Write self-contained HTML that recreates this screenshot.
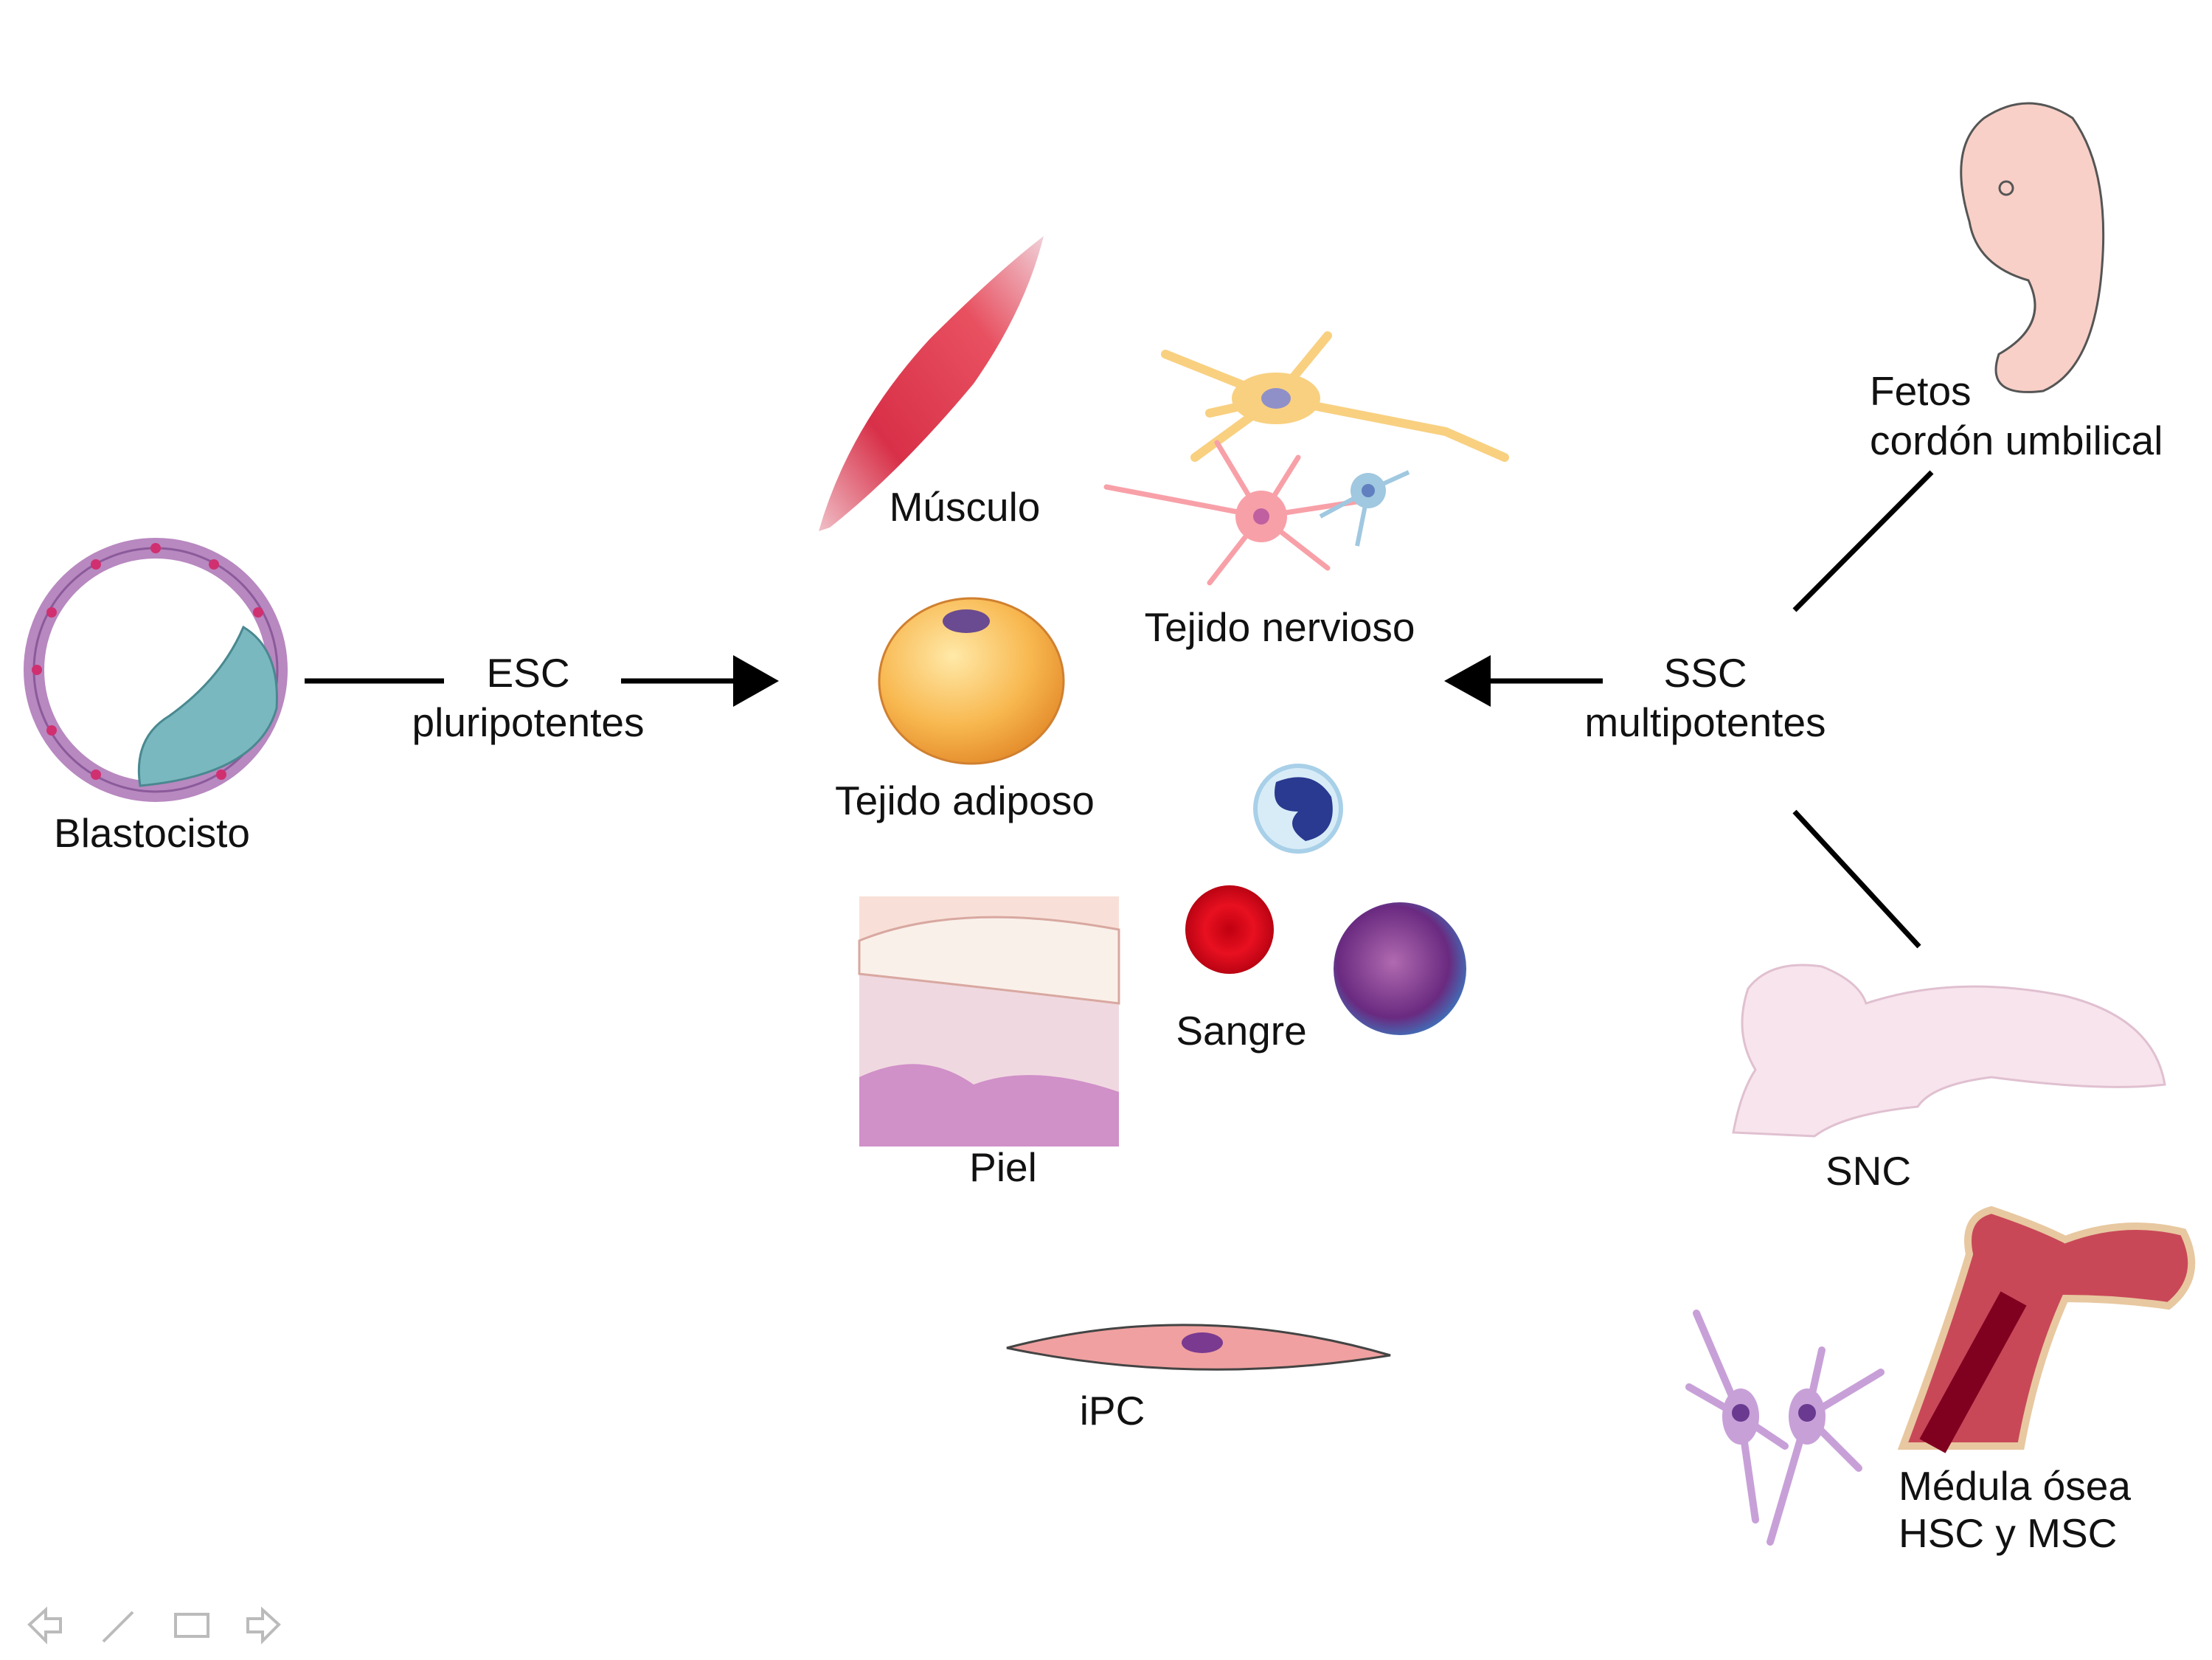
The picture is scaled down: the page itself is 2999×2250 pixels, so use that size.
<!DOCTYPE html>
<html><head><meta charset="utf-8"><style>
html,body{margin:0;padding:0;background:#fff}
svg{display:block}
text{font-family:"Liberation Sans",Arial,sans-serif;font-size:55px;fill:#111;transform:translate(-9px,-4px)}
</style></head><body>
<svg width="2999" height="2250" viewBox="0 0 2999 2250" xmlns="http://www.w3.org/2000/svg">
<defs>
<radialGradient id="fat" cx="40%" cy="35%" r="70%"><stop offset="0" stop-color="#ffe9a8"/><stop offset="0.6" stop-color="#f8b850"/><stop offset="1" stop-color="#e38a2a"/></radialGradient>
<radialGradient id="rbc" cx="50%" cy="50%" r="55%"><stop offset="0" stop-color="#c00010"/><stop offset="0.5" stop-color="#e81020"/><stop offset="1" stop-color="#b00010"/></radialGradient>
<radialGradient id="pur" cx="45%" cy="45%" r="60%"><stop offset="0" stop-color="#b06ab0"/><stop offset="0.7" stop-color="#6a2a80"/><stop offset="1" stop-color="#3a7ac0"/></radialGradient>
<linearGradient id="mus" x1="0" y1="1" x2="1" y2="0"><stop offset="0" stop-color="#f0c0c8"/><stop offset="0.3" stop-color="#d83048"/><stop offset="0.7" stop-color="#e85060"/><stop offset="1" stop-color="#f0d0d8"/></linearGradient>
</defs>

<!-- Blastocyst -->
<circle cx="211" cy="908" r="165" fill="none" stroke="#b888c0" stroke-width="28"/>
<circle cx="211" cy="908" r="165" fill="none" stroke="#8a5a9a" stroke-width="3"/>
<path d="M330 850 Q380 880 375 960 Q350 1050 190 1065 Q180 1000 230 970 Q300 920 330 850Z" fill="#7ab8c0" stroke="#4a8890" stroke-width="3"/>
<g fill="#d03070">
<circle cx="211" cy="743" r="7"/><circle cx="130" cy="765" r="7"/><circle cx="290" cy="765" r="7"/><circle cx="70" cy="830" r="7"/><circle cx="50" cy="908" r="7"/><circle cx="70" cy="990" r="7"/><circle cx="130" cy="1050" r="7"/><circle cx="350" cy="830" r="7"/><circle cx="300" cy="1050" r="7"/>
</g>
<text x="215" y="1152" text-anchor="middle">Blastocisto</text>

<!-- ESC arrow -->
<line x1="413" y1="923" x2="602" y2="923" stroke="#000" stroke-width="7"/>
<line x1="842" y1="923" x2="1000" y2="923" stroke="#000" stroke-width="7"/>
<polygon points="994,888 1056,923 994,958" fill="#000"/>
<text x="725" y="935" text-anchor="middle">ESC</text>
<text x="725" y="1002" text-anchor="middle">pluripotentes</text>

<!-- Muscle -->
<path d="M1110 720 Q1150 580 1260 460 Q1350 370 1415 320 Q1390 420 1320 520 Q1220 640 1125 715Z" fill="url(#mus)"/>
<text x="1317" y="710" text-anchor="middle">Músculo</text>

<!-- Neurons -->
<g stroke="#f8d080" stroke-width="12" fill="none" stroke-linecap="round">
<path d="M1730 540 L1580 480 M1730 540 L1620 620 M1730 540 L1800 455 M1730 540 L1960 585 L2040 620 M1730 540 L1640 560"/>
</g>
<ellipse cx="1730" cy="540" rx="60" ry="35" fill="#f8d080"/>
<ellipse cx="1730" cy="540" rx="20" ry="14" fill="#9090c8"/>
<g stroke="#f8a0a8" stroke-width="7" fill="none" stroke-linecap="round">
<path d="M1710 700 L1500 660 M1710 700 L1650 600 M1710 700 L1760 620 M1710 700 L1640 790 M1710 700 L1800 770 M1710 700 L1840 680"/>
</g>
<circle cx="1710" cy="700" r="35" fill="#f8a0a8"/>
<circle cx="1710" cy="700" r="11" fill="#c060a0"/>
<g stroke="#a0c8e0" stroke-width="6" fill="none"><path d="M1855 665 L1910 640 M1855 665 L1840 740 M1855 665 L1790 700"/></g>
<circle cx="1855" cy="665" r="24" fill="#a0c8e0"/><circle cx="1855" cy="665" r="9" fill="#6080c0"/>
<text x="1744" y="873" text-anchor="middle">Tejido nervioso</text>

<!-- Fat cell -->
<ellipse cx="1317" cy="923" rx="125" ry="112" fill="url(#fat)" stroke="#d08030" stroke-width="3"/>
<ellipse cx="1310" cy="842" rx="32" ry="16" fill="#6a4a90"/>
<text x="1317" y="1108" text-anchor="middle">Tejido adiposo</text>

<!-- Blood -->
<circle cx="1760" cy="1096" r="58" fill="#d8ecf8" stroke="#a8d0e8" stroke-width="6"/>
<path d="M1730 1060 Q1780 1040 1805 1080 Q1815 1130 1770 1140 Q1740 1120 1760 1100 Q1720 1100 1730 1060Z" fill="#2a3a90"/>
<circle cx="1667" cy="1260" r="60" fill="url(#rbc)"/>
<circle cx="1898" cy="1313" r="90" fill="url(#pur)"/>
<text x="1692" y="1420" text-anchor="middle">Sangre</text>

<!-- Skin -->
<rect x="1165" y="1215" width="352" height="339" fill="#f0d8e0"/>
<rect x="1165" y="1215" width="352" height="60" fill="#f8e0d8"/>
<path d="M1165 1275 Q1300 1220 1517 1260 L1517 1360 Q1350 1340 1165 1320Z" fill="#faf0ea" stroke="#d8a8a0" stroke-width="3"/>
<path d="M1165 1460 Q1250 1420 1320 1470 Q1400 1440 1517 1480 L1517 1554 L1165 1554Z" fill="#d090c8"/>
<text x="1369" y="1605" text-anchor="middle">Piel</text>

<!-- iPC -->
<path d="M1365 1827 Q1620 1760 1885 1837 Q1620 1880 1365 1827Z" fill="#f0a0a0" stroke="#444" stroke-width="3"/>
<ellipse cx="1630" cy="1820" rx="28" ry="14" fill="#7a3a90"/>
<text x="1517" y="1935" text-anchor="middle">iPC</text>

<!-- SSC arrow -->
<line x1="2019" y1="923" x2="2173" y2="923" stroke="#000" stroke-width="7"/>
<polygon points="2021,888 1958,923 2021,958" fill="#000"/>
<text x="2321" y="935" text-anchor="middle">SSC</text>
<text x="2321" y="1002" text-anchor="middle">multipotentes</text>
<line x1="2433" y1="827" x2="2619" y2="640" stroke="#000" stroke-width="7"/>
<line x1="2433" y1="1100" x2="2602" y2="1283" stroke="#000" stroke-width="7"/>

<!-- Fetus -->
<path d="M2690 160 Q2750 120 2810 160 Q2860 230 2850 360 Q2840 500 2770 530 Q2690 540 2710 480 Q2780 440 2750 380 Q2680 360 2670 300 Q2640 200 2690 160Z" fill="#f8d0c8" stroke="#555" stroke-width="3"/>
<circle cx="2720" cy="255" r="9" fill="none" stroke="#555" stroke-width="3"/>
<text x="2544" y="553">Fetos</text>
<text x="2544" y="620">cordón umbilical</text>

<!-- Brain -->
<path d="M2370 1340 Q2400 1300 2470 1310 Q2520 1330 2530 1360 Q2650 1320 2800 1350 Q2920 1380 2935 1470 Q2850 1480 2700 1460 Q2620 1470 2600 1500 Q2500 1510 2460 1540 L2350 1535 Q2360 1480 2380 1450 Q2350 1400 2370 1340Z" fill="#f8e4ec" stroke="#e0c0d0" stroke-width="3"/>
<text x="2542" y="1610" text-anchor="middle">SNC</text>

<!-- Bone -->
<path d="M2580 1960 Q2640 1800 2670 1700 Q2660 1650 2700 1640 Q2760 1660 2800 1680 Q2880 1650 2960 1670 Q2990 1730 2940 1770 Q2870 1760 2800 1760 Q2760 1850 2740 1960Z" fill="#c84858" stroke="#e8c8a0" stroke-width="10"/>
<path d="M2620 1960 Q2680 1850 2730 1760" stroke="#800020" stroke-width="40" fill="none"/>
<!-- MSC cells -->
<g stroke="#c8a0d8" stroke-width="10" fill="none" stroke-linecap="round">
<path d="M2360 1920 L2300 1780 M2360 1920 L2290 1880 M2360 1920 L2380 2060 M2360 1920 L2420 1960"/>
<path d="M2450 1920 L2550 1860 M2450 1920 L2400 2090 M2450 1920 L2470 1830 M2450 1920 L2520 1990"/>
</g>
<ellipse cx="2360" cy="1920" rx="25" ry="38" fill="#c8a0d8"/><ellipse cx="2450" cy="1920" rx="25" ry="38" fill="#c8a0d8"/>
<circle cx="2360" cy="1915" r="12" fill="#6a3a90"/><circle cx="2450" cy="1915" r="12" fill="#6a3a90"/>
<text x="2583" y="2037">Médula ósea</text>
<text x="2583" y="2101">HSC y MSC</text>

<!-- nav icons -->
<g stroke="#bbb" stroke-width="4" fill="none">
<path d="M40 2202 L62 2182 L62 2194 L82 2194 L82 2212 L62 2212 L62 2224Z"/>
<path d="M140 2225 L180 2185"/>
<rect x="238" y="2188" width="44" height="30"/>
<path d="M378 2202 L356 2182 L356 2194 L336 2194 L336 2212 L356 2212 L356 2224Z"/>
</g>
</svg>
</body></html>
